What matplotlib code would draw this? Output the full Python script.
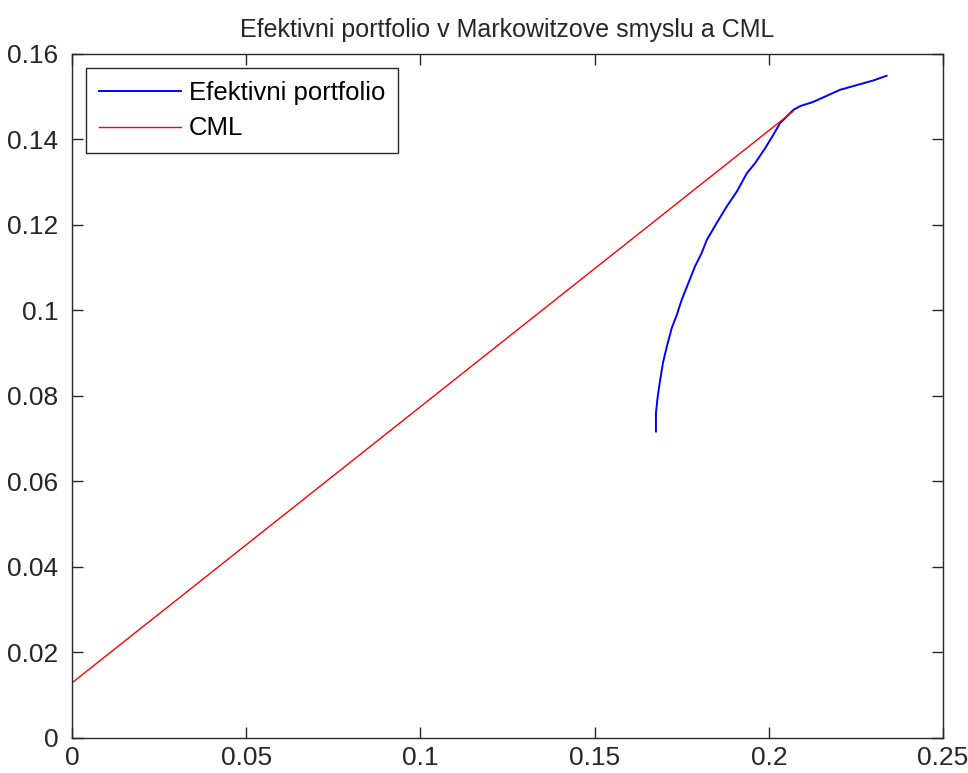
import matplotlib.pyplot as plt

# Efficient frontier points
ef_risk = [0.1676, 0.1676, 0.1681, 0.1688, 0.1696, 0.1707, 0.1721, 0.1736,
           0.1750, 0.1769, 0.1788, 0.1807, 0.1822, 0.1850, 0.1879, 0.1908,
           0.1937, 0.1960, 0.1989, 0.2013, 0.2032, 0.2070, 0.2090, 0.2128,
           0.2166, 0.2204, 0.2243, 0.2300, 0.2338]
ef_return = [0.0717, 0.0760, 0.0798, 0.0837, 0.0877, 0.0915, 0.0958, 0.0990,
             0.1025, 0.1064, 0.1103, 0.1134, 0.1165, 0.1204, 0.1243, 0.1278,
             0.1321, 0.1344, 0.1379, 0.1411, 0.1438, 0.1469, 0.1478, 0.1488,
             0.1502, 0.1516, 0.1525, 0.1538, 0.1549]

# Capital market line: risk-free rate to tangency portfolio
cml_risk = [0.0, 0.207]
cml_return = [0.0129, 0.1466]

plt.rcParams['font.family'] = ['Liberation Sans', 'DejaVu Sans']

fig = plt.figure(figsize=(9.68, 7.73), dpi=100)
ax = fig.add_axes([0.0744, 0.0453, 0.8998, 0.8849])

ax.plot(ef_risk, ef_return, color='#0000ff', linewidth=1.4, label='Efektivni portfolio')
ax.plot(cml_risk, cml_return, color='#ff0000', linewidth=1.0, label='CML')

ax.set_xlim(0, 0.25)
ax.set_ylim(0, 0.16)
ax.set_xticks([0, 0.05, 0.1, 0.15, 0.2, 0.25])
ax.set_xticklabels(['0', '0.05', '0.1', '0.15', '0.2', '0.25'])
ax.set_yticks([0, 0.02, 0.04, 0.06, 0.08, 0.1, 0.12, 0.14, 0.16])
ax.set_yticklabels(['0', '0.02', '0.04', '0.06', '0.08', '0.1', '0.12', '0.14', '0.16'])
ax.tick_params(direction='in', length=8, width=1, top=True, right=True,
               labelsize=19, colors='#262626')
ax.tick_params(axis='y', pad=10)
ax.tick_params(axis='x', pad=6)
for s in ax.spines.values():
    s.set_color('#262626')
    s.set_linewidth(1)

ax.set_title('Efektivni portfolio v Markowitzove smyslu a CML', fontsize=18,
             color='#262626', pad=12)

leg = ax.legend(loc='upper left', fontsize=18.5, fancybox=False, framealpha=1,
                edgecolor='#262626', borderaxespad=0.55, handlelength=3.2,
                labelspacing=0.45, handletextpad=0.3, borderpad=0.5)
leg.get_frame().set_linewidth(1)

fig.savefig('out.png', dpi=100)
